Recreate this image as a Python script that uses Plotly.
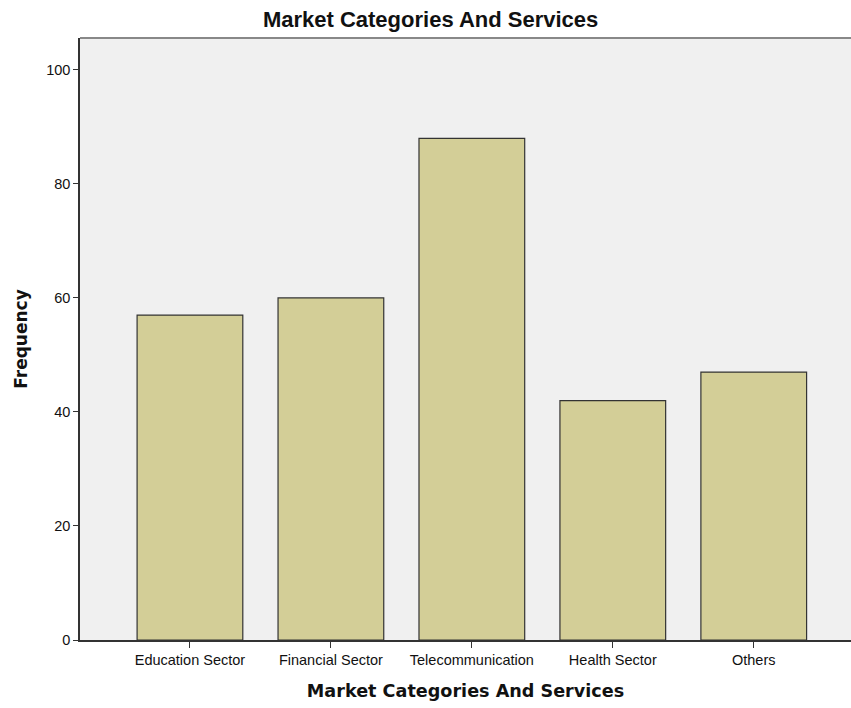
import plotly.graph_objects as go

categories = ["Education Sector", "Financial Sector", "Telecommunication", "Health Sector", "Others"]
frequency = [57, 60, 88, 42, 47]
y_ticks = [0, 20, 40, 60, 80, 100]

fig = go.Figure()
fig.add_trace(go.Bar(
    x=list(range(len(categories))), y=frequency, width=0.75,
    marker=dict(color="#d3ce97", line=dict(color="#333333", width=1.2)),
))
fig.update_layout(
    width=851, height=708,
    margin=dict(l=80, r=0, t=38, b=68),
    paper_bgcolor="white", plot_bgcolor="#f0f0f0",
    showlegend=False,
    title=dict(text="<b>Market Categories And Services</b>", x=0.506, xanchor="center",
               y=1 - 19 / 708, yanchor="middle",
               font=dict(family="Liberation Sans, Arial", size=22, color="#111")),
    font=dict(family="Liberation Sans, Arial", size=15, color="#111"),
    bargap=0.25,
)
fig.update_xaxes(
    range=[-0.78, 4.69], tickmode="array", tickvals=list(range(len(categories))),
    ticktext=categories, ticks="outside", ticklen=6, tickcolor="#333",
    showline=True, linecolor="#333", linewidth=1.5, showgrid=False, zeroline=False,
    title=dict(text="<b>Market Categories And Services</b>",
               font=dict(family="DejaVu Sans", size=17.6), standoff=18),
    tickfont=dict(size=14.5),
)
fig.update_yaxes(
    range=[0, 105.6], tickmode="array", tickvals=y_ticks, ticks="outside", ticklen=5,
    tickcolor="#333", showline=True, linecolor="#333", linewidth=1.5, showgrid=False,
    zeroline=False, title=dict(text="<b>Frequency</b>",
                               font=dict(family="DejaVu Sans", size=17), standoff=14),
    tickfont=dict(size=14.5),
)
fig.add_shape(type="line", xref="paper", yref="paper", x0=0, x1=1, y0=1, y1=1,
              line=dict(color="#888888", width=2))
fig.write_html("out.html")
